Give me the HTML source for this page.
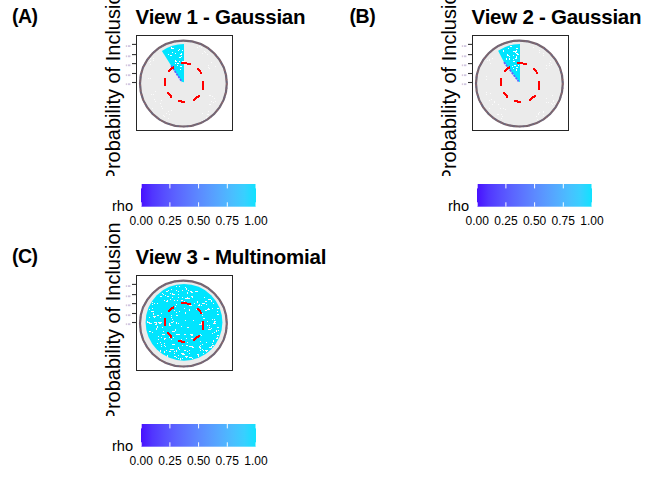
<!DOCTYPE html>
<html><head><meta charset="utf-8"><style>
html,body{margin:0;padding:0;background:#fff;}
body{width:672px;height:480px;overflow:hidden;}
svg{display:block;font-family:"Liberation Sans",sans-serif;}
</style></head><body>
<svg width="672" height="480" viewBox="0 0 672 480">
<defs>
<linearGradient id="cb" x1="0" y1="0" x2="1" y2="0"><stop offset="0.0" stop-color="rgb(72, 16, 255)"/><stop offset="0.1" stop-color="rgb(81, 54, 255)"/><stop offset="0.2" stop-color="rgb(87, 78, 255)"/><stop offset="0.3" stop-color="rgb(91, 99, 255)"/><stop offset="0.4" stop-color="rgb(92, 118, 255)"/><stop offset="0.5" stop-color="rgb(92, 137, 255)"/><stop offset="0.6" stop-color="rgb(89, 155, 255)"/><stop offset="0.7" stop-color="rgb(83, 173, 255)"/><stop offset="0.8" stop-color="rgb(73, 191, 255)"/><stop offset="0.9" stop-color="rgb(56, 208, 255)"/><stop offset="1.0" stop-color="rgb(16, 226, 255)"/></linearGradient>
<clipPath id="clipy0"><rect x="0" y="0" width="672" height="176"/></clipPath>
<clipPath id="clipy240"><rect x="0" y="180" width="672" height="236"/></clipPath>
</defs>
<rect width="672" height="480" fill="#fff"/>
<g clip-path="url(#clipy0)"><text transform="translate(120 82.4) rotate(-90)" text-anchor="middle" font-size="20" fill="#000">Probability of Inclusion</text></g>
<text x="135.6" y="23.9" font-size="20.5" font-weight="bold" letter-spacing="-0.25" fill="#000">View 1 - Gaussian</text>
<text x="11.9" y="22.7" font-size="19.5" font-weight="bold" letter-spacing="-0.5" fill="#000">(A)</text>
<ellipse cx="183.4" cy="83.6" rx="43.4" ry="42.9" fill="#ebebeb"/>
<path d="M184 82.3L184 43.9A38.4 38.4 0 0 0 161.9 50.9L171 65.4L181.8 81.7Z" fill="#00e5ff"/>
<g fill="#fff"><rect x="170" y="55" width="2" height="1"/><rect x="173" y="48" width="1" height="1"/><rect x="180" y="66" width="2" height="1"/><rect x="181" y="56" width="1" height="1"/><rect x="171" y="47" width="1" height="1"/><rect x="182" y="50" width="1" height="1"/><rect x="179" y="57" width="1" height="1"/><rect x="179" y="49" width="1" height="1"/><rect x="180" y="69" width="1" height="1"/><rect x="172" y="48" width="1" height="1"/><rect x="181" y="53" width="1" height="2"/><rect x="168" y="54" width="1" height="1"/><rect x="180" y="54" width="1" height="1"/><rect x="171" y="48" width="1" height="1"/><rect x="175" y="61" width="2" height="1"/><rect x="182" y="61" width="1" height="1"/><rect x="177" y="63" width="2" height="1"/><rect x="175" y="60" width="1" height="2"/><rect x="175" y="63" width="1" height="1"/><rect x="179" y="61" width="1" height="1"/><rect x="177" y="65" width="1" height="1"/><rect x="175" y="53" width="1" height="1"/><rect x="183" y="61" width="2" height="1"/><rect x="178" y="50" width="1" height="1"/><rect x="179" y="57" width="2" height="1"/><rect x="172" y="52" width="1" height="1"/></g>
<path d="M171.2 65.6L181.8 81.7" stroke="#6060ff" stroke-width="1.7" stroke-dasharray="2.2 1" fill="none"/>
<g fill="#fff" opacity="0.8"><rect x="150" y="61" width="1" height="1"/><rect x="153" y="58" width="1" height="1"/><rect x="153" y="60" width="1" height="1"/><rect x="150" y="64" width="1" height="1"/><rect x="150" y="58" width="1" height="1"/><rect x="149" y="62" width="1" height="1"/><rect x="207" y="54" width="1" height="1"/><rect x="204" y="51" width="1" height="1"/><rect x="202" y="53" width="1" height="1"/><rect x="205" y="52" width="1" height="1"/><rect x="205" y="52" width="1" height="1"/><rect x="215" y="66" width="1" height="1"/><rect x="209" y="68" width="1" height="1"/><rect x="208" y="65" width="1" height="1"/><rect x="211" y="62" width="1" height="1"/><rect x="208" y="67" width="1" height="1"/><rect x="208" y="65" width="1" height="1"/><rect x="155" y="91" width="1" height="1"/><rect x="151" y="94" width="1" height="1"/><rect x="153" y="94" width="1" height="1"/><rect x="161" y="100" width="1" height="1"/><rect x="155" y="101" width="1" height="1"/><rect x="152" y="108" width="1" height="1"/><rect x="161" y="106" width="1" height="1"/><rect x="152" y="108" width="1" height="1"/><rect x="160" y="103" width="1" height="1"/><rect x="160" y="103" width="1" height="1"/><rect x="154" y="99" width="1" height="1"/><rect x="162" y="108" width="1" height="1"/><rect x="164" y="116" width="1" height="1"/><rect x="168" y="118" width="1" height="1"/><rect x="168" y="111" width="1" height="1"/><rect x="166" y="113" width="1" height="1"/><rect x="169" y="114" width="1" height="1"/><rect x="163" y="115" width="1" height="1"/><rect x="171" y="110" width="1" height="1"/><rect x="208" y="111" width="1" height="1"/><rect x="202" y="113" width="1" height="1"/><rect x="207" y="120" width="1" height="1"/><rect x="207" y="114" width="1" height="1"/><rect x="208" y="114" width="1" height="1"/><rect x="202" y="120" width="1" height="1"/><rect x="206" y="117" width="1" height="1"/><rect x="206" y="120" width="1" height="1"/><rect x="204" y="119" width="1" height="1"/><rect x="206" y="119" width="1" height="1"/><rect x="213" y="102" width="1" height="1"/><rect x="214" y="98" width="1" height="1"/><rect x="211" y="101" width="1" height="1"/><rect x="209" y="104" width="1" height="1"/><rect x="210" y="95" width="1" height="1"/><rect x="210" y="104" width="1" height="1"/><rect x="212" y="96" width="1" height="1"/><rect x="209" y="95" width="1" height="1"/><rect x="215" y="101" width="1" height="1"/><rect x="150" y="78" width="1" height="1"/><rect x="148" y="78" width="1" height="1"/><rect x="199" y="46" width="1" height="1"/><rect x="201" y="47" width="1" height="1"/><rect x="197" y="47" width="1" height="1"/></g>
<ellipse cx="183.4" cy="83.6" rx="43.4" ry="42.9" fill="none" stroke="#75656f" stroke-width="2.2"/>
<ellipse cx="183.4" cy="83.6" rx="43.4" ry="42.9" fill="none" stroke="#a0686e" stroke-width="1.6" stroke-dasharray="1.3 3.1 0.9 4.2" opacity="0.7"/>
<ellipse cx="183.4" cy="83.6" rx="43.4" ry="42.9" fill="none" stroke="#5f6a92" stroke-width="1.6" stroke-dasharray="1.1 4.6 1.4 2.7" stroke-dashoffset="2" opacity="0.6"/>
<g fill="#ff0000"><rect x="181" y="62" width="6" height="2"/><rect x="187" y="63" width="4" height="2"/><rect x="197" y="68" width="2" height="2"/><rect x="198" y="69" width="2" height="2"/><rect x="199" y="70" width="2" height="2"/><rect x="199" y="71" width="2" height="1"/><rect x="200" y="72" width="2" height="2"/><rect x="202" y="81" width="2" height="9"/><rect x="198" y="95" width="2" height="2"/><rect x="196" y="96" width="3" height="2"/><rect x="195" y="97" width="2" height="2"/><rect x="194" y="98" width="2" height="2"/><rect x="193" y="99" width="2" height="2"/><rect x="178" y="100" width="4" height="2"/><rect x="181" y="101" width="4" height="2"/><rect x="167" y="92" width="2" height="2"/><rect x="168" y="93" width="2" height="2"/><rect x="169" y="94" width="2" height="2"/><rect x="170" y="95" width="2" height="3"/><rect x="164" y="78" width="2" height="8"/><rect x="168" y="70" width="2" height="2"/><rect x="169" y="69" width="2" height="2"/><rect x="170" y="68" width="2" height="2"/><rect x="171" y="67" width="3" height="2"/><rect x="173" y="66" width="1" height="2"/></g>
<rect x="136.5" y="35.5" width="96" height="95" fill="none" stroke="#262626" stroke-width="1"/>
<path d="M132 44.4H136.5" stroke="#333" stroke-width="1.1"/>
<rect x="125.8" y="45.2" width="1.2" height="1.8" fill="#d8c8dc"/><rect x="127.8" y="45.2" width="2.6" height="1.8" fill="#cfc6e0"/>
<path d="M132 54.6H136.5" stroke="#333" stroke-width="1.1"/>
<rect x="125.8" y="55.4" width="1.2" height="1.8" fill="#d8c8dc"/><rect x="127.8" y="55.4" width="2.6" height="1.8" fill="#cfc6e0"/>
<path d="M132 63.6H136.5" stroke="#333" stroke-width="1.1"/>
<rect x="125.8" y="64.4" width="1.2" height="1.8" fill="#d8c8dc"/><rect x="127.8" y="64.4" width="2.6" height="1.8" fill="#cfc6e0"/>
<path d="M132 73.5H136.5" stroke="#333" stroke-width="1.1"/>
<rect x="125.8" y="74.3" width="1.2" height="1.8" fill="#d8c8dc"/><rect x="127.8" y="74.3" width="2.6" height="1.8" fill="#cfc6e0"/>
<path d="M132 82.5H136.5" stroke="#333" stroke-width="1.1"/>
<rect x="125.8" y="83.3" width="1.2" height="1.8" fill="#d8c8dc"/><rect x="127.8" y="83.3" width="2.6" height="1.8" fill="#cfc6e0"/>
<rect x="141" y="184" width="115" height="22.7" fill="url(#cb)"/>
<path d="M141.2 184v4.4M141.2 202.3v4.4" stroke="#fff" stroke-width="1"/>
<path d="M169.9 184v4.4M169.9 202.3v4.4" stroke="#fff" stroke-width="1"/>
<path d="M198.6 184v4.4M198.6 202.3v4.4" stroke="#fff" stroke-width="1"/>
<path d="M227.3 184v4.4M227.3 202.3v4.4" stroke="#fff" stroke-width="1"/>
<path d="M256.0 184v4.4M256.0 202.3v4.4" stroke="#fff" stroke-width="1"/>
<text x="112" y="210.7" font-size="14.6" fill="#000">rho</text>
<text x="141.2" y="224.7" font-size="12" text-anchor="middle" fill="#000">0.00</text>
<text x="169.9" y="224.7" font-size="12" text-anchor="middle" fill="#000">0.25</text>
<text x="198.6" y="224.7" font-size="12" text-anchor="middle" fill="#000">0.50</text>
<text x="227.3" y="224.7" font-size="12" text-anchor="middle" fill="#000">0.75</text>
<text x="256.0" y="224.7" font-size="12" text-anchor="middle" fill="#000">1.00</text>
<g clip-path="url(#clipy0)"><text transform="translate(456 82.4) rotate(-90)" text-anchor="middle" font-size="20" fill="#000">Probability of Inclusion</text></g>
<text x="471.6" y="23.9" font-size="20.5" font-weight="bold" letter-spacing="-0.25" fill="#000">View 2 - Gaussian</text>
<text x="349.6" y="22.7" font-size="19.5" font-weight="bold" letter-spacing="-0.5" fill="#000">(B)</text>
<ellipse cx="519.4" cy="83.6" rx="43.4" ry="42.9" fill="#ebebeb"/>
<path d="M520 82.3L520 43.9A38.4 38.4 0 0 0 498.1 50.7L503.9 61.9L518.5 81.2Z" fill="#00e5ff"/>
<g fill="#fff"><rect x="506" y="58" width="1" height="2"/><rect x="515" y="58" width="2" height="1"/><rect x="511" y="46" width="1" height="1"/><rect x="517" y="54" width="2" height="1"/><rect x="513" y="61" width="2" height="1"/><rect x="516" y="67" width="2" height="1"/><rect x="508" y="48" width="1" height="1"/><rect x="513" y="68" width="1" height="1"/><rect x="513" y="51" width="2" height="1"/><rect x="516" y="50" width="1" height="2"/><rect x="516" y="56" width="1" height="2"/><rect x="515" y="51" width="1" height="2"/><rect x="516" y="69" width="1" height="2"/><rect x="513" y="55" width="1" height="1"/><rect x="518" y="65" width="1" height="1"/><rect x="507" y="54" width="1" height="1"/><rect x="509" y="56" width="1" height="1"/><rect x="512" y="66" width="1" height="1"/><rect x="509" y="58" width="1" height="2"/><rect x="507" y="55" width="2" height="1"/><rect x="516" y="53" width="2" height="1"/><rect x="510" y="46" width="1" height="1"/><rect x="503" y="50" width="1" height="2"/><rect x="516" y="48" width="2" height="1"/><rect x="513" y="59" width="1" height="1"/><rect x="514" y="65" width="2" height="1"/></g>
<path d="M504 62.2L518.6 81.4" stroke="#6060ff" stroke-width="1.7" stroke-dasharray="2.2 1" fill="none"/>
<g fill="#fff" opacity="0.8"><rect x="489" y="60" width="1" height="1"/><rect x="487" y="60" width="1" height="1"/><rect x="490" y="63" width="1" height="1"/><rect x="492" y="58" width="1" height="1"/><rect x="487" y="60" width="1" height="1"/><rect x="489" y="59" width="1" height="1"/><rect x="539" y="50" width="1" height="1"/><rect x="539" y="52" width="1" height="1"/><rect x="543" y="55" width="1" height="1"/><rect x="543" y="55" width="1" height="1"/><rect x="543" y="53" width="1" height="1"/><rect x="550" y="61" width="1" height="1"/><rect x="549" y="65" width="1" height="1"/><rect x="546" y="65" width="1" height="1"/><rect x="551" y="64" width="1" height="1"/><rect x="549" y="63" width="1" height="1"/><rect x="546" y="68" width="1" height="1"/><rect x="486" y="92" width="1" height="1"/><rect x="490" y="93" width="1" height="1"/><rect x="486" y="94" width="1" height="1"/><rect x="492" y="104" width="1" height="1"/><rect x="492" y="104" width="1" height="1"/><rect x="494" y="102" width="1" height="1"/><rect x="489" y="100" width="1" height="1"/><rect x="498" y="104" width="1" height="1"/><rect x="489" y="108" width="1" height="1"/><rect x="491" y="99" width="1" height="1"/><rect x="494" y="101" width="1" height="1"/><rect x="501" y="114" width="1" height="1"/><rect x="498" y="114" width="1" height="1"/><rect x="497" y="114" width="1" height="1"/><rect x="503" y="108" width="1" height="1"/><rect x="500" y="108" width="1" height="1"/><rect x="501" y="118" width="1" height="1"/><rect x="502" y="116" width="1" height="1"/><rect x="505" y="109" width="1" height="1"/><rect x="545" y="118" width="1" height="1"/><rect x="537" y="119" width="1" height="1"/><rect x="539" y="112" width="1" height="1"/><rect x="545" y="116" width="1" height="1"/><rect x="543" y="112" width="1" height="1"/><rect x="543" y="111" width="1" height="1"/><rect x="538" y="114" width="1" height="1"/><rect x="536" y="116" width="1" height="1"/><rect x="538" y="113" width="1" height="1"/><rect x="543" y="115" width="1" height="1"/><rect x="553" y="101" width="1" height="1"/><rect x="553" y="100" width="1" height="1"/><rect x="554" y="103" width="1" height="1"/><rect x="546" y="102" width="1" height="1"/><rect x="548" y="102" width="1" height="1"/><rect x="551" y="103" width="1" height="1"/><rect x="546" y="98" width="1" height="1"/><rect x="552" y="104" width="1" height="1"/><rect x="552" y="95" width="1" height="1"/><rect x="486" y="76" width="1" height="1"/><rect x="486" y="79" width="1" height="1"/><rect x="533" y="47" width="1" height="1"/><rect x="537" y="43" width="1" height="1"/><rect x="534" y="44" width="1" height="1"/></g>
<ellipse cx="519.4" cy="83.6" rx="43.4" ry="42.9" fill="none" stroke="#75656f" stroke-width="2.2"/>
<ellipse cx="519.4" cy="83.6" rx="43.4" ry="42.9" fill="none" stroke="#a0686e" stroke-width="1.6" stroke-dasharray="1.3 3.1 0.9 4.2" opacity="0.7"/>
<ellipse cx="519.4" cy="83.6" rx="43.4" ry="42.9" fill="none" stroke="#5f6a92" stroke-width="1.6" stroke-dasharray="1.1 4.6 1.4 2.7" stroke-dashoffset="2" opacity="0.6"/>
<g fill="#ff0000"><rect x="517" y="62" width="6" height="2"/><rect x="523" y="63" width="4" height="2"/><rect x="533" y="68" width="2" height="2"/><rect x="534" y="69" width="2" height="2"/><rect x="535" y="70" width="2" height="2"/><rect x="535" y="71" width="2" height="1"/><rect x="536" y="72" width="2" height="2"/><rect x="538" y="81" width="2" height="9"/><rect x="534" y="95" width="2" height="2"/><rect x="532" y="96" width="3" height="2"/><rect x="531" y="97" width="2" height="2"/><rect x="530" y="98" width="2" height="2"/><rect x="529" y="99" width="2" height="2"/><rect x="514" y="100" width="4" height="2"/><rect x="517" y="101" width="4" height="2"/><rect x="503" y="92" width="2" height="2"/><rect x="504" y="93" width="2" height="2"/><rect x="505" y="94" width="2" height="2"/><rect x="506" y="95" width="2" height="3"/><rect x="500" y="78" width="2" height="8"/><rect x="504" y="70" width="2" height="2"/><rect x="505" y="69" width="2" height="2"/><rect x="506" y="68" width="2" height="2"/><rect x="507" y="67" width="3" height="2"/><rect x="509" y="66" width="1" height="2"/></g>
<rect x="472.5" y="35.5" width="96" height="95" fill="none" stroke="#262626" stroke-width="1"/>
<path d="M468 44.4H472.5" stroke="#333" stroke-width="1.1"/>
<rect x="461.8" y="45.2" width="1.2" height="1.8" fill="#d8c8dc"/><rect x="463.8" y="45.2" width="2.6" height="1.8" fill="#cfc6e0"/>
<path d="M468 54.6H472.5" stroke="#333" stroke-width="1.1"/>
<rect x="461.8" y="55.4" width="1.2" height="1.8" fill="#d8c8dc"/><rect x="463.8" y="55.4" width="2.6" height="1.8" fill="#cfc6e0"/>
<path d="M468 63.6H472.5" stroke="#333" stroke-width="1.1"/>
<rect x="461.8" y="64.4" width="1.2" height="1.8" fill="#d8c8dc"/><rect x="463.8" y="64.4" width="2.6" height="1.8" fill="#cfc6e0"/>
<path d="M468 73.5H472.5" stroke="#333" stroke-width="1.1"/>
<rect x="461.8" y="74.3" width="1.2" height="1.8" fill="#d8c8dc"/><rect x="463.8" y="74.3" width="2.6" height="1.8" fill="#cfc6e0"/>
<path d="M468 82.5H472.5" stroke="#333" stroke-width="1.1"/>
<rect x="461.8" y="83.3" width="1.2" height="1.8" fill="#d8c8dc"/><rect x="463.8" y="83.3" width="2.6" height="1.8" fill="#cfc6e0"/>
<rect x="477" y="184" width="115" height="22.7" fill="url(#cb)"/>
<path d="M477.2 184v4.4M477.2 202.3v4.4" stroke="#fff" stroke-width="1"/>
<path d="M505.9 184v4.4M505.9 202.3v4.4" stroke="#fff" stroke-width="1"/>
<path d="M534.6 184v4.4M534.6 202.3v4.4" stroke="#fff" stroke-width="1"/>
<path d="M563.3 184v4.4M563.3 202.3v4.4" stroke="#fff" stroke-width="1"/>
<path d="M592.0 184v4.4M592.0 202.3v4.4" stroke="#fff" stroke-width="1"/>
<text x="448" y="210.7" font-size="14.6" fill="#000">rho</text>
<text x="477.2" y="224.7" font-size="12" text-anchor="middle" fill="#000">0.00</text>
<text x="505.9" y="224.7" font-size="12" text-anchor="middle" fill="#000">0.25</text>
<text x="534.6" y="224.7" font-size="12" text-anchor="middle" fill="#000">0.50</text>
<text x="563.3" y="224.7" font-size="12" text-anchor="middle" fill="#000">0.75</text>
<text x="592.0" y="224.7" font-size="12" text-anchor="middle" fill="#000">1.00</text>
<g clip-path="url(#clipy240)"><text transform="translate(120 322.4) rotate(-90)" text-anchor="middle" font-size="20" fill="#000">Probability of Inclusion</text></g>
<text x="135.6" y="263.9" font-size="20.5" font-weight="bold" letter-spacing="-0.25" fill="#000">View 3 - Multinomial</text>
<text x="11.9" y="262.7" font-size="19.5" font-weight="bold" letter-spacing="-0.5" fill="#000">(C)</text>
<ellipse cx="183.4" cy="323.6" rx="43.4" ry="42.9" fill="#ebebeb"/>
<circle cx="184" cy="322.3" r="38.4" fill="#00e5ff"/>
<g fill="#fff4f4"><rect x="152" y="304" width="1" height="1"/><rect x="197" y="354" width="2" height="1"/><rect x="174" y="300" width="1" height="1"/><rect x="196" y="309" width="1" height="1"/><rect x="195" y="291" width="3" height="1"/><rect x="165" y="322" width="1" height="2"/><rect x="218" y="330" width="1" height="1"/><rect x="168" y="290" width="1" height="1"/><rect x="199" y="346" width="1" height="2"/><rect x="202" y="303" width="2" height="1"/><rect x="177" y="334" width="1" height="1"/><rect x="152" y="302" width="1" height="1"/><rect x="171" y="336" width="1" height="1"/><rect x="160" y="342" width="1" height="1"/><rect x="181" y="326" width="1" height="1"/><rect x="212" y="319" width="1" height="1"/><rect x="175" y="306" width="1" height="1"/><rect x="161" y="322" width="1" height="1"/><rect x="153" y="316" width="3" height="1"/><rect x="185" y="312" width="1" height="2"/><rect x="160" y="296" width="2" height="1"/><rect x="178" y="347" width="1" height="2"/><rect x="217" y="308" width="2" height="1"/><rect x="185" y="298" width="2" height="1"/><rect x="164" y="300" width="1" height="1"/><rect x="158" y="339" width="1" height="1"/><rect x="172" y="344" width="3" height="1"/><rect x="164" y="343" width="1" height="1"/><rect x="171" y="339" width="1" height="1"/><rect x="178" y="323" width="1" height="1"/><rect x="174" y="351" width="1" height="1"/><rect x="179" y="334" width="1" height="1"/><rect x="151" y="311" width="3" height="1"/><rect x="205" y="310" width="2" height="1"/><rect x="190" y="334" width="2" height="1"/><rect x="187" y="297" width="1" height="1"/><rect x="217" y="337" width="1" height="1"/><rect x="178" y="358" width="1" height="1"/><rect x="177" y="300" width="1" height="1"/><rect x="192" y="347" width="2" height="1"/><rect x="162" y="293" width="1" height="1"/><rect x="217" y="314" width="2" height="1"/><rect x="189" y="309" width="1" height="2"/><rect x="200" y="341" width="1" height="1"/><rect x="205" y="301" width="2" height="1"/><rect x="192" y="358" width="1" height="1"/><rect x="163" y="294" width="1" height="1"/><rect x="166" y="350" width="1" height="1"/><rect x="209" y="329" width="2" height="1"/><rect x="159" y="323" width="2" height="1"/><rect x="162" y="327" width="1" height="1"/><rect x="214" y="319" width="1" height="1"/><rect x="178" y="291" width="1" height="1"/><rect x="192" y="334" width="1" height="1"/><rect x="213" y="340" width="1" height="2"/><rect x="157" y="315" width="2" height="1"/><rect x="167" y="296" width="2" height="1"/><rect x="182" y="297" width="1" height="1"/><rect x="186" y="288" width="1" height="2"/><rect x="187" y="298" width="3" height="1"/><rect x="179" y="349" width="1" height="1"/><rect x="201" y="323" width="1" height="1"/><rect x="188" y="290" width="1" height="1"/><rect x="184" y="301" width="1" height="1"/><rect x="171" y="322" width="2" height="1"/><rect x="202" y="315" width="1" height="1"/><rect x="191" y="338" width="2" height="1"/><rect x="203" y="353" width="1" height="1"/><rect x="185" y="356" width="3" height="1"/><rect x="164" y="300" width="1" height="1"/><rect x="149" y="331" width="1" height="1"/><rect x="212" y="345" width="2" height="1"/><rect x="176" y="312" width="1" height="1"/><rect x="217" y="335" width="2" height="1"/><rect x="207" y="309" width="3" height="1"/><rect x="189" y="353" width="1" height="1"/><rect x="163" y="331" width="1" height="1"/><rect x="185" y="302" width="2" height="1"/><rect x="207" y="321" width="1" height="1"/><rect x="200" y="347" width="1" height="2"/><rect x="180" y="358" width="1" height="2"/><rect x="176" y="357" width="1" height="1"/><rect x="206" y="304" width="1" height="1"/><rect x="157" y="303" width="1" height="1"/><rect x="206" y="301" width="1" height="1"/><rect x="160" y="350" width="1" height="2"/><rect x="198" y="355" width="1" height="2"/><rect x="207" y="325" width="1" height="1"/><rect x="187" y="327" width="2" height="1"/><rect x="191" y="335" width="2" height="1"/><rect x="176" y="334" width="3" height="1"/><rect x="208" y="299" width="3" height="1"/><rect x="171" y="289" width="1" height="1"/><rect x="187" y="351" width="1" height="1"/><rect x="199" y="324" width="3" height="1"/><rect x="201" y="305" width="1" height="1"/><rect x="202" y="344" width="1" height="1"/><rect x="176" y="304" width="1" height="1"/><rect x="149" y="322" width="1" height="1"/><rect x="158" y="322" width="3" height="1"/><rect x="189" y="346" width="3" height="1"/><rect x="179" y="286" width="1" height="1"/><rect x="182" y="341" width="1" height="1"/><rect x="173" y="321" width="1" height="1"/><rect x="164" y="345" width="1" height="1"/><rect x="165" y="295" width="1" height="1"/><rect x="172" y="294" width="3" height="1"/><rect x="176" y="286" width="1" height="1"/><rect x="162" y="334" width="3" height="1"/><rect x="164" y="339" width="1" height="1"/><rect x="201" y="322" width="1" height="1"/><rect x="212" y="308" width="1" height="1"/><rect x="161" y="344" width="1" height="1"/><rect x="198" y="335" width="1" height="2"/><rect x="213" y="303" width="1" height="1"/><rect x="169" y="351" width="2" height="1"/><rect x="171" y="349" width="3" height="1"/><rect x="185" y="320" width="1" height="1"/><rect x="215" y="321" width="1" height="1"/><rect x="182" y="290" width="1" height="1"/><rect x="157" y="343" width="1" height="1"/><rect x="170" y="293" width="1" height="1"/><rect x="153" y="313" width="1" height="1"/><rect x="181" y="353" width="3" height="1"/><rect x="178" y="294" width="1" height="1"/><rect x="189" y="350" width="1" height="1"/><rect x="154" y="317" width="1" height="1"/><rect x="186" y="357" width="1" height="1"/><rect x="149" y="331" width="2" height="1"/><rect x="211" y="300" width="1" height="2"/><rect x="175" y="329" width="1" height="2"/><rect x="209" y="347" width="1" height="1"/><rect x="201" y="335" width="1" height="1"/><rect x="149" y="317" width="1" height="1"/><rect x="172" y="331" width="3" height="1"/><rect x="152" y="332" width="1" height="1"/><rect x="185" y="287" width="1" height="1"/><rect x="161" y="346" width="1" height="1"/><rect x="169" y="337" width="1" height="1"/><rect x="209" y="325" width="1" height="1"/><rect x="212" y="333" width="1" height="1"/><rect x="178" y="355" width="1" height="1"/><rect x="194" y="303" width="1" height="1"/><rect x="204" y="297" width="1" height="1"/><rect x="191" y="296" width="2" height="1"/><rect x="208" y="329" width="1" height="1"/><rect x="178" y="297" width="1" height="1"/><rect x="167" y="300" width="1" height="2"/><rect x="164" y="338" width="2" height="1"/><rect x="203" y="318" width="2" height="1"/><rect x="170" y="299" width="1" height="1"/><rect x="184" y="308" width="1" height="1"/><rect x="154" y="322" width="3" height="1"/><rect x="217" y="327" width="2" height="1"/><rect x="156" y="328" width="1" height="2"/><rect x="157" y="326" width="1" height="2"/><rect x="156" y="323" width="1" height="1"/><rect x="166" y="291" width="2" height="1"/><rect x="209" y="329" width="2" height="1"/><rect x="187" y="292" width="1" height="2"/><rect x="186" y="338" width="1" height="1"/><rect x="212" y="343" width="1" height="1"/><rect x="152" y="308" width="1" height="1"/><rect x="176" y="290" width="1" height="1"/><rect x="179" y="311" width="1" height="1"/><rect x="214" y="321" width="1" height="2"/><rect x="206" y="351" width="1" height="1"/><rect x="213" y="323" width="3" height="1"/><rect x="182" y="345" width="1" height="1"/><rect x="198" y="305" width="2" height="1"/><rect x="158" y="336" width="1" height="1"/><rect x="199" y="304" width="1" height="2"/><rect x="182" y="358" width="1" height="1"/><rect x="172" y="319" width="1" height="1"/><rect x="155" y="324" width="2" height="1"/><rect x="192" y="297" width="1" height="1"/><rect x="149" y="309" width="1" height="1"/><rect x="160" y="317" width="1" height="1"/><rect x="170" y="349" width="1" height="1"/><rect x="174" y="356" width="2" height="1"/><rect x="154" y="303" width="1" height="1"/><rect x="204" y="303" width="1" height="1"/><rect x="166" y="301" width="1" height="1"/><rect x="216" y="338" width="2" height="1"/><rect x="201" y="313" width="2" height="1"/><rect x="148" y="322" width="2" height="1"/><rect x="174" y="353" width="1" height="1"/><rect x="205" y="350" width="3" height="1"/><rect x="200" y="334" width="1" height="1"/><rect x="217" y="311" width="1" height="1"/><rect x="182" y="354" width="3" height="1"/><rect x="202" y="349" width="1" height="1"/><rect x="216" y="330" width="1" height="2"/><rect x="186" y="345" width="2" height="1"/><rect x="161" y="313" width="1" height="1"/><rect x="167" y="355" width="1" height="2"/><rect x="189" y="305" width="3" height="1"/><rect x="209" y="327" width="1" height="1"/><rect x="189" y="353" width="1" height="1"/><rect x="169" y="325" width="2" height="1"/><rect x="172" y="297" width="1" height="1"/><rect x="209" y="347" width="3" height="1"/><rect x="176" y="351" width="1" height="1"/><rect x="149" y="323" width="3" height="1"/><rect x="169" y="323" width="1" height="2"/><rect x="153" y="314" width="1" height="1"/><rect x="181" y="339" width="1" height="2"/><rect x="189" y="357" width="3" height="1"/><rect x="193" y="320" width="1" height="1"/><rect x="214" y="332" width="1" height="1"/><rect x="184" y="350" width="2" height="1"/><rect x="188" y="303" width="1" height="1"/><rect x="171" y="317" width="1" height="1"/><rect x="191" y="292" width="2" height="1"/><rect x="211" y="328" width="1" height="1"/><rect x="174" y="310" width="1" height="1"/><rect x="165" y="346" width="1" height="1"/><rect x="200" y="350" width="1" height="1"/><rect x="197" y="301" width="1" height="2"/><rect x="200" y="345" width="1" height="1"/><rect x="211" y="346" width="1" height="1"/><rect x="206" y="342" width="1" height="1"/><rect x="165" y="318" width="1" height="1"/><rect x="192" y="346" width="1" height="1"/><rect x="198" y="336" width="1" height="1"/><rect x="147" y="321" width="1" height="2"/><rect x="176" y="322" width="1" height="2"/><rect x="172" y="293" width="1" height="1"/><rect x="203" y="350" width="1" height="1"/><rect x="176" y="350" width="1" height="2"/><rect x="171" y="315" width="1" height="1"/><rect x="190" y="291" width="2" height="1"/><rect x="184" y="334" width="2" height="1"/><rect x="176" y="315" width="2" height="1"/><rect x="164" y="351" width="1" height="2"/><rect x="208" y="308" width="1" height="1"/><rect x="161" y="337" width="1" height="1"/><rect x="181" y="300" width="2" height="1"/><rect x="173" y="337" width="1" height="1"/><rect x="187" y="342" width="1" height="1"/><rect x="146" y="562" width="5" height="1"/><rect x="217" y="562" width="5" height="1"/></g>
<ellipse cx="183.4" cy="323.6" rx="43.4" ry="42.9" fill="none" stroke="#75656f" stroke-width="2.2"/>
<ellipse cx="183.4" cy="323.6" rx="43.4" ry="42.9" fill="none" stroke="#a0686e" stroke-width="1.6" stroke-dasharray="1.3 3.1 0.9 4.2" opacity="0.7"/>
<ellipse cx="183.4" cy="323.6" rx="43.4" ry="42.9" fill="none" stroke="#5f6a92" stroke-width="1.6" stroke-dasharray="1.1 4.6 1.4 2.7" stroke-dashoffset="2" opacity="0.6"/>
<g fill="#ff0000"><rect x="181" y="302" width="6" height="2"/><rect x="187" y="303" width="4" height="2"/><rect x="197" y="308" width="2" height="2"/><rect x="198" y="309" width="2" height="2"/><rect x="199" y="310" width="2" height="2"/><rect x="199" y="311" width="2" height="1"/><rect x="200" y="312" width="2" height="2"/><rect x="202" y="321" width="2" height="9"/><rect x="198" y="335" width="2" height="2"/><rect x="196" y="336" width="3" height="2"/><rect x="195" y="337" width="2" height="2"/><rect x="194" y="338" width="2" height="2"/><rect x="193" y="339" width="2" height="2"/><rect x="178" y="340" width="4" height="2"/><rect x="181" y="341" width="4" height="2"/><rect x="167" y="332" width="2" height="2"/><rect x="168" y="333" width="2" height="2"/><rect x="169" y="334" width="2" height="2"/><rect x="170" y="335" width="2" height="3"/><rect x="164" y="318" width="2" height="8"/><rect x="168" y="310" width="2" height="2"/><rect x="169" y="309" width="2" height="2"/><rect x="170" y="308" width="2" height="2"/><rect x="171" y="307" width="3" height="2"/><rect x="173" y="306" width="1" height="2"/></g>
<rect x="136.5" y="275.5" width="96" height="95" fill="none" stroke="#262626" stroke-width="1"/>
<path d="M132 284.4H136.5" stroke="#333" stroke-width="1.1"/>
<rect x="125.8" y="285.2" width="1.2" height="1.8" fill="#d8c8dc"/><rect x="127.8" y="285.2" width="2.6" height="1.8" fill="#cfc6e0"/>
<path d="M132 294.6H136.5" stroke="#333" stroke-width="1.1"/>
<rect x="125.8" y="295.4" width="1.2" height="1.8" fill="#d8c8dc"/><rect x="127.8" y="295.4" width="2.6" height="1.8" fill="#cfc6e0"/>
<path d="M132 303.6H136.5" stroke="#333" stroke-width="1.1"/>
<rect x="125.8" y="304.4" width="1.2" height="1.8" fill="#d8c8dc"/><rect x="127.8" y="304.4" width="2.6" height="1.8" fill="#cfc6e0"/>
<path d="M132 313.5H136.5" stroke="#333" stroke-width="1.1"/>
<rect x="125.8" y="314.3" width="1.2" height="1.8" fill="#d8c8dc"/><rect x="127.8" y="314.3" width="2.6" height="1.8" fill="#cfc6e0"/>
<path d="M132 322.5H136.5" stroke="#333" stroke-width="1.1"/>
<rect x="125.8" y="323.3" width="1.2" height="1.8" fill="#d8c8dc"/><rect x="127.8" y="323.3" width="2.6" height="1.8" fill="#cfc6e0"/>
<rect x="141" y="424" width="115" height="22.7" fill="url(#cb)"/>
<path d="M141.2 424v4.4M141.2 442.3v4.4" stroke="#fff" stroke-width="1"/>
<path d="M169.9 424v4.4M169.9 442.3v4.4" stroke="#fff" stroke-width="1"/>
<path d="M198.6 424v4.4M198.6 442.3v4.4" stroke="#fff" stroke-width="1"/>
<path d="M227.3 424v4.4M227.3 442.3v4.4" stroke="#fff" stroke-width="1"/>
<path d="M256.0 424v4.4M256.0 442.3v4.4" stroke="#fff" stroke-width="1"/>
<text x="112" y="450.7" font-size="14.6" fill="#000">rho</text>
<text x="141.2" y="464.7" font-size="12" text-anchor="middle" fill="#000">0.00</text>
<text x="169.9" y="464.7" font-size="12" text-anchor="middle" fill="#000">0.25</text>
<text x="198.6" y="464.7" font-size="12" text-anchor="middle" fill="#000">0.50</text>
<text x="227.3" y="464.7" font-size="12" text-anchor="middle" fill="#000">0.75</text>
<text x="256.0" y="464.7" font-size="12" text-anchor="middle" fill="#000">1.00</text>
</svg>
</body></html>
